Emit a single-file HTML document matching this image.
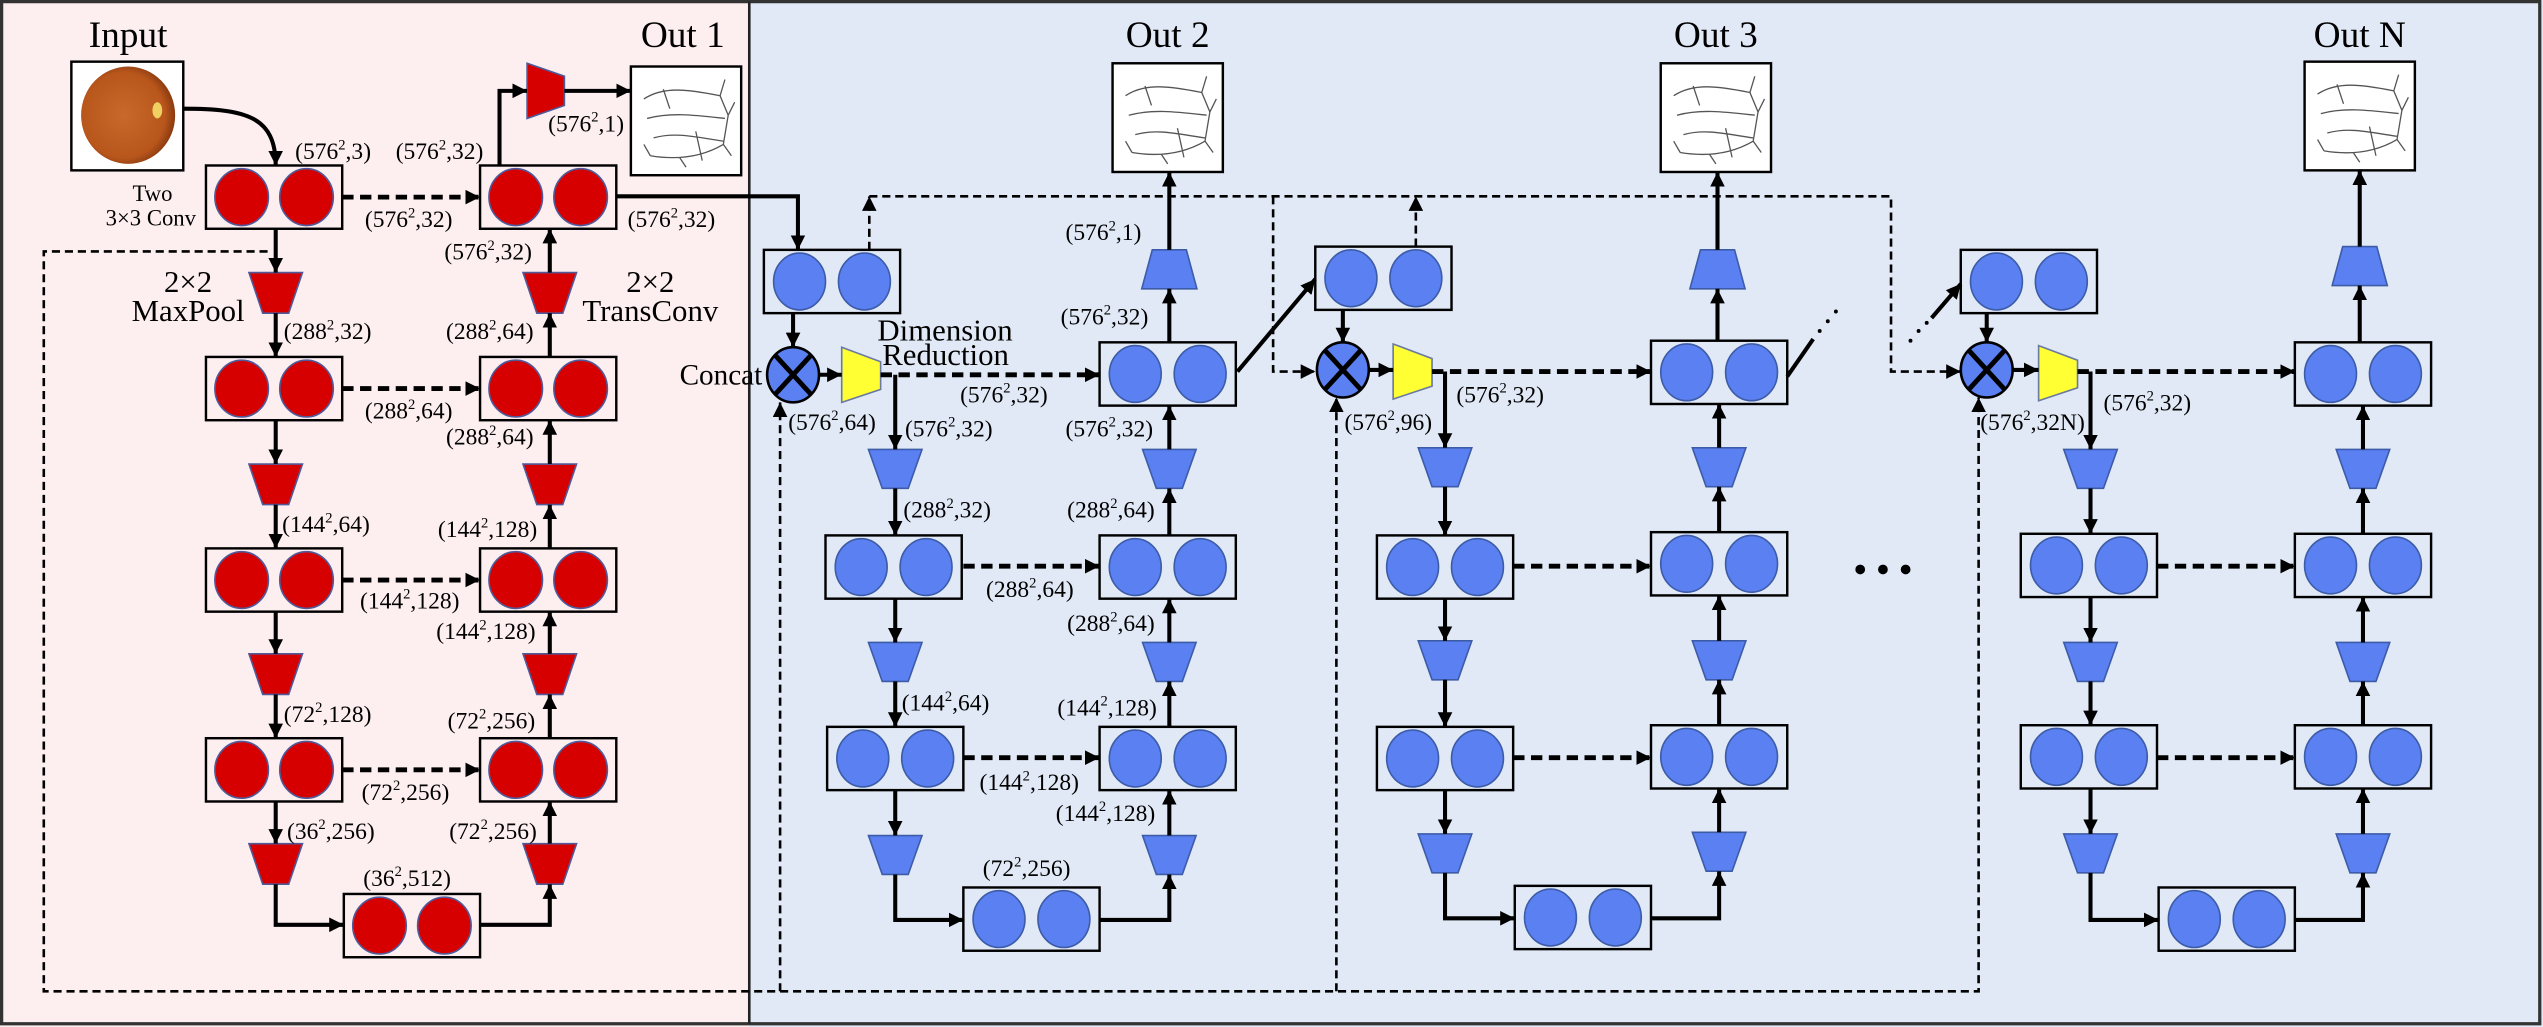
<!DOCTYPE html>
<html><head><meta charset="utf-8"><style>
html,body{margin:0;padding:0;background:#fff;}
svg{display:block;}
text{font-family:"Liberation Serif",serif;fill:#000;}
.s{stroke:#000;stroke-width:2.5;fill:none;}
.d{stroke:#000;stroke-width:3;fill:none;stroke-dasharray:7 4;}
.t{stroke:#000;stroke-width:1.6;fill:none;stroke-dasharray:5 3;}
.l{font-size:14.5px;}
</style></head><body>
<svg width="2543" height="1027" viewBox="0 0 1568 633" preserveAspectRatio="none" xmlns="http://www.w3.org/2000/svg">
<defs>
<marker id="a" viewBox="0 0 10 10" refX="10" refY="5" markerWidth="9" markerHeight="9" markerUnits="userSpaceOnUse" orient="auto"><path d="M0,0L10,5L0,10z" fill="#000"/></marker>
<g id="bR"><rect width="84" height="39" fill="none" stroke="#000" stroke-width="1.5"/><ellipse cx="22" cy="19.5" rx="16.5" ry="17.5" fill="#d70000" stroke="#4f5a9a"/><ellipse cx="62" cy="19.5" rx="16.5" ry="17.5" fill="#d70000" stroke="#4f5a9a"/></g>
<g id="bB"><rect width="84" height="39" fill="none" stroke="#000" stroke-width="1.5"/><ellipse cx="22" cy="19.5" rx="16" ry="17.5" fill="#5a80f2" stroke="#3d5ca8"/><ellipse cx="62" cy="19.5" rx="16" ry="17.5" fill="#5a80f2" stroke="#3d5ca8"/></g>
<polygon id="tR" points="-16.5,0 16.5,0 8,25 -8,25" fill="#d70000" stroke="#4f5a9a"/>
<polygon id="tB" points="-16.5,0 16.5,0 8,24 -8,24" fill="#5a80f2" stroke="#3d5ca8"/>
<polygon id="uB" points="-10.5,0 10.5,0 17,24 -17,24" fill="#5a80f2" stroke="#3d5ca8"/>
<polygon id="yY" points="0,0 24,9 24,26 0,34" fill="#ffff33" stroke="#6a7aa0"/>
<g id="cc"><ellipse cx="0" cy="0" rx="16" ry="17" fill="#5a80f2" stroke="#000" stroke-width="1.6"/><path d="M-11,-12L11,12M11,-12L-11,12" stroke="#000" stroke-width="3"/></g>
<radialGradient id="eye" cx="0.45" cy="0.5" r="0.55"><stop offset="0" stop-color="#c86a2a"/><stop offset="0.8" stop-color="#b8561c"/><stop offset="1" stop-color="#8a3a10"/></radialGradient>
<g id="ves"><rect width="68" height="67" fill="#fff" stroke="#000" stroke-width="1.5"/><g stroke="#555" stroke-width="0.8" fill="none"><path d="M8,20 C20,12 35,14 55,18 L60,30 L57,48 C45,55 30,58 12,55"/><path d="M10,32 C25,28 40,30 58,32"/><path d="M14,44 C28,40 42,44 57,46"/><path d="M55,18 L58,8 M60,30 L64,22 M57,48 L62,55 M20,14 L24,26 M30,56 L34,62 M40,40 L44,58 M12,55 L8,48"/></g></g>
</defs>
<!-- backgrounds -->
<rect x="0" y="0" width="462" height="633" fill="#fdeef0"/>
<rect x="462" y="0" width="1106" height="633" fill="#e1e9f6"/>
<rect x="1" y="1" width="1565" height="630" fill="none" stroke="#333" stroke-width="2"/>
<line x1="462" y1="1" x2="462" y2="631" stroke="#222" stroke-width="1.6"/>

<!-- titles -->
<text x="79" y="29" font-size="23" text-anchor="middle">Input</text>
<text x="421" y="29" font-size="23" text-anchor="middle">Out 1</text>
<text x="720" y="29" font-size="23" text-anchor="middle">Out 2</text>
<text x="1058" y="29" font-size="23" text-anchor="middle">Out 3</text>
<text x="1455" y="29" font-size="23" text-anchor="middle">Out N</text>

<!-- images -->
<rect x="44" y="38" width="69" height="67" fill="#fff" stroke="#000" stroke-width="1.5"/>
<ellipse cx="79" cy="71" rx="29" ry="30" fill="url(#eye)"/>
<ellipse cx="97" cy="68" rx="3" ry="5" fill="#f0d060"/>
<use href="#ves" x="389" y="41"/>
<use href="#ves" x="686" y="39"/>
<use href="#ves" x="1024" y="39"/>
<use href="#ves" x="1421" y="38"/>

<!-- stage 1 blocks -->
<use href="#bR" x="127" y="102"/><use href="#bR" x="296" y="102"/>
<use href="#bR" x="127" y="220"/><use href="#bR" x="296" y="220"/>
<use href="#bR" x="127" y="338"/><use href="#bR" x="296" y="338"/>
<use href="#bR" x="127" y="455"/><use href="#bR" x="296" y="455"/>
<use href="#bR" x="212" y="551"/>
<use href="#tR" x="170" y="168"/><use href="#tR" x="170" y="286"/><use href="#tR" x="170" y="403"/><use href="#tR" x="170" y="520"/>
<use href="#tR" x="339" y="168"/><use href="#tR" x="339" y="286"/><use href="#tR" x="339" y="403"/><use href="#tR" x="339" y="520"/>
<polygon points="325,39 348,47 348,65 325,73" fill="#d70000" stroke="#4f5a9a"/>

<!-- stage 1 arrows -->
<path class="s" d="M113,67 C152,67 170,72 170,102" marker-end="url(#a)"/>
<path class="s" d="M170,141V168" marker-end="url(#a)"/>
<path class="s" d="M170,193V220" marker-end="url(#a)"/>
<path class="s" d="M170,259V286" marker-end="url(#a)"/>
<path class="s" d="M170,311V338" marker-end="url(#a)"/>
<path class="s" d="M170,377V403" marker-end="url(#a)"/>
<path class="s" d="M170,428V455" marker-end="url(#a)"/>
<path class="s" d="M170,494V520" marker-end="url(#a)"/>
<path class="s" d="M170,545V570H212" marker-end="url(#a)"/>
<path class="s" d="M296,570H339V545" marker-end="url(#a)"/>
<path class="s" d="M339,520V494" marker-end="url(#a)"/>
<path class="s" d="M339,455V428" marker-end="url(#a)"/>
<path class="s" d="M339,403V377" marker-end="url(#a)"/>
<path class="s" d="M339,338V311" marker-end="url(#a)"/>
<path class="s" d="M339,286V259" marker-end="url(#a)"/>
<path class="s" d="M339,220V193" marker-end="url(#a)"/>
<path class="s" d="M339,168V141" marker-end="url(#a)"/>
<path class="s" d="M308,102V56H325" marker-end="url(#a)"/>
<path class="s" d="M348,56H389" marker-end="url(#a)"/>
<path class="d" d="M211,121.5H296" marker-end="url(#a)"/>
<path class="d" d="M211,239.5H296" marker-end="url(#a)"/>
<path class="d" d="M211,357.5H296" marker-end="url(#a)"/>
<path class="d" d="M211,474.5H296" marker-end="url(#a)"/>
<path class="s" stroke-width="3" d="M380,121H492V154" marker-end="url(#a)"/>

<!-- long dashed lines -->
<path class="t" d="M165,155H27V611H1220V245" marker-end="url(#a)"/>
<path class="t" d="M481,611V248" marker-end="url(#a)"/>
<path class="t" d="M824,611V245" marker-end="url(#a)"/>
<path class="t" d="M536,154V121" marker-end="url(#a)"/>
<path class="t" d="M873,152V121" marker-end="url(#a)"/>
<path class="t" d="M536,121H1166V229H1209" marker-end="url(#a)"/>
<path class="t" d="M785,121V229H811" marker-end="url(#a)"/>

<!-- stage 2 -->
<use href="#bB" x="471" y="154"/><use href="#bB" x="811" y="152"/>
<use href="#bB" x="678" y="211"/>
<use href="#bB" x="509" y="330"/><use href="#bB" x="678" y="330"/>
<use href="#bB" x="510" y="448"/><use href="#bB" x="678" y="448"/>
<use href="#bB" x="594" y="547"/>
<use href="#cc" x="489" y="231"/>
<use href="#yY" x="519" y="214"/>
<use href="#tB" x="552" y="277"/><use href="#tB" x="552" y="396"/><use href="#tB" x="552" y="515"/>
<use href="#tB" x="721" y="277"/><use href="#tB" x="721" y="396"/><use href="#tB" x="721" y="515"/>
<use href="#uB" x="721" y="154"/>
<path class="s" d="M489,193V214" marker-end="url(#a)"/>
<path class="s" d="M505,231H519" marker-end="url(#a)"/>
<path class="d" d="M543,231H678" marker-end="url(#a)"/>
<path class="s" d="M552,231V277" marker-end="url(#a)"/>
<path class="s" d="M552,301V330" marker-end="url(#a)"/>
<path class="s" d="M552,369V396" marker-end="url(#a)"/>
<path class="s" d="M552,420V448" marker-end="url(#a)"/>
<path class="s" d="M552,487V515" marker-end="url(#a)"/>
<path class="s" d="M552,539V567H594" marker-end="url(#a)"/>
<path class="s" d="M678,567H721V539" marker-end="url(#a)"/>
<path class="s" d="M721,515V487" marker-end="url(#a)"/>
<path class="s" d="M721,448V420" marker-end="url(#a)"/>
<path class="s" d="M721,396V369" marker-end="url(#a)"/>
<path class="s" d="M721,330V301" marker-end="url(#a)"/>
<path class="s" d="M721,277V250" marker-end="url(#a)"/>
<path class="s" d="M721,211V178" marker-end="url(#a)"/>
<path class="s" d="M721,154V106" marker-end="url(#a)"/>
<path class="d" d="M594,349H678" marker-end="url(#a)"/>
<path class="d" d="M594,467H678" marker-end="url(#a)"/>
<path class="s" d="M763,229L811,172" marker-end="url(#a)"/>

<!-- stage 3 -->
<use href="#bB" x="1018" y="210"/>
<use href="#bB" x="849" y="330"/><use href="#bB" x="1018" y="328"/>
<use href="#bB" x="849" y="448"/><use href="#bB" x="1018" y="447"/>
<use href="#bB" x="934" y="546"/>
<use href="#cc" x="828" y="228"/>
<use href="#yY" x="859" y="212"/>
<use href="#tB" x="891" y="276"/><use href="#tB" x="891" y="395"/><use href="#tB" x="891" y="514"/>
<use href="#tB" x="1060" y="276"/><use href="#tB" x="1060" y="395"/><use href="#tB" x="1060" y="513"/>
<use href="#uB" x="1059" y="154"/>
<path class="s" d="M828,191V211" marker-end="url(#a)"/>
<path class="s" d="M844,228H859" marker-end="url(#a)"/>
<path class="d" d="M883,229H1018" marker-end="url(#a)"/>
<path class="s" d="M891,229V276" marker-end="url(#a)"/>
<path class="s" d="M891,300V330" marker-end="url(#a)"/>
<path class="s" d="M891,369V395" marker-end="url(#a)"/>
<path class="s" d="M891,419V448" marker-end="url(#a)"/>
<path class="s" d="M891,487V514" marker-end="url(#a)"/>
<path class="s" d="M891,538V566H934" marker-end="url(#a)"/>
<path class="s" d="M1018,566H1060V537" marker-end="url(#a)"/>
<path class="s" d="M1060,513V486" marker-end="url(#a)"/>
<path class="s" d="M1060,447V419" marker-end="url(#a)"/>
<path class="s" d="M1060,395V367" marker-end="url(#a)"/>
<path class="s" d="M1060,328V300" marker-end="url(#a)"/>
<path class="s" d="M1060,276V249" marker-end="url(#a)"/>
<path class="s" d="M1059,210V178" marker-end="url(#a)"/>
<path class="s" d="M1059,154V106" marker-end="url(#a)"/>
<path class="d" d="M933,349H1018" marker-end="url(#a)"/>
<path class="d" d="M933,467H1018" marker-end="url(#a)"/>
<path class="s" d="M1102,232L1118,209"/>
<circle cx="1122" cy="204" r="1.2"/><circle cx="1127" cy="198" r="1.2"/><circle cx="1132" cy="192" r="1.2"/>
<circle cx="1147" cy="351" r="3"/><circle cx="1161" cy="351" r="3"/><circle cx="1175" cy="351" r="3"/>

<!-- stage N -->
<use href="#bB" x="1209" y="154"/>
<use href="#bB" x="1415" y="211"/>
<use href="#bB" x="1246" y="329"/><use href="#bB" x="1415" y="329"/>
<use href="#bB" x="1246" y="447"/><use href="#bB" x="1415" y="447"/>
<use href="#bB" x="1331" y="547"/>
<use href="#cc" x="1225" y="228"/>
<use href="#yY" x="1257" y="213"/>
<use href="#tB" x="1289" y="277"/><use href="#tB" x="1289" y="396"/><use href="#tB" x="1289" y="514"/>
<use href="#tB" x="1457" y="277"/><use href="#tB" x="1457" y="396"/><use href="#tB" x="1457" y="514"/>
<use href="#uB" x="1455" y="152"/>
<circle cx="1178" cy="210" r="1.2"/><circle cx="1183" cy="204" r="1.2"/><circle cx="1188" cy="199" r="1.2"/>
<path class="s" d="M1191,196L1209,175" marker-end="url(#a)"/>
<path class="s" d="M1225,193V211" marker-end="url(#a)"/>
<path class="s" d="M1241,228H1257" marker-end="url(#a)"/>
<path class="d" d="M1281,229H1415" marker-end="url(#a)"/>
<path class="s" d="M1289,229V277" marker-end="url(#a)"/>
<path class="s" d="M1289,301V329" marker-end="url(#a)"/>
<path class="s" d="M1289,368V396" marker-end="url(#a)"/>
<path class="s" d="M1289,420V447" marker-end="url(#a)"/>
<path class="s" d="M1289,486V514" marker-end="url(#a)"/>
<path class="s" d="M1289,538V567H1331" marker-end="url(#a)"/>
<path class="s" d="M1415,567H1457V538" marker-end="url(#a)"/>
<path class="s" d="M1457,514V486" marker-end="url(#a)"/>
<path class="s" d="M1457,447V420" marker-end="url(#a)"/>
<path class="s" d="M1457,396V368" marker-end="url(#a)"/>
<path class="s" d="M1457,329V301" marker-end="url(#a)"/>
<path class="s" d="M1457,277V250" marker-end="url(#a)"/>
<path class="s" d="M1455,211V176" marker-end="url(#a)"/>
<path class="s" d="M1455,152V105" marker-end="url(#a)"/>
<path class="d" d="M1330,349H1415" marker-end="url(#a)"/>
<path class="d" d="M1330,467H1415" marker-end="url(#a)"/>

<!-- text labels -->
<text x="94" y="124" font-size="14" text-anchor="middle">Two</text>
<text x="93" y="139" font-size="14" text-anchor="middle">3×3 Conv</text>
<text x="116" y="180" font-size="19" text-anchor="middle">2×2</text>
<text x="116" y="198" font-size="19" text-anchor="middle">MaxPool</text>
<text x="401" y="180" font-size="19" text-anchor="middle">2×2</text>
<text x="401" y="198" font-size="19" text-anchor="middle">TransConv</text>
<text x="470" y="237" font-size="18" text-anchor="end">Concat</text>
<text x="541" y="210" font-size="19">Dimension</text>
<text x="544" y="225" font-size="19">Reduction</text>

<g class="l">
<text x="182" y="98">(576<tspan font-size="9" dy="-6">2</tspan><tspan dy="6">,3)</tspan></text>
<text x="244" y="98">(576<tspan font-size="9" dy="-6">2</tspan><tspan dy="6">,32)</tspan></text>
<text x="338" y="81">(576<tspan font-size="9" dy="-6">2</tspan><tspan dy="6">,1)</tspan></text>
<text x="225" y="140">(576<tspan font-size="9" dy="-6">2</tspan><tspan dy="6">,32)</tspan></text>
<text x="387" y="140">(576<tspan font-size="9" dy="-6">2</tspan><tspan dy="6">,32)</tspan></text>
<text x="274" y="160">(576<tspan font-size="9" dy="-6">2</tspan><tspan dy="6">,32)</tspan></text>
<text x="175" y="209">(288<tspan font-size="9" dy="-6">2</tspan><tspan dy="6">,32)</tspan></text>
<text x="275" y="209">(288<tspan font-size="9" dy="-6">2</tspan><tspan dy="6">,64)</tspan></text>
<text x="225" y="258">(288<tspan font-size="9" dy="-6">2</tspan><tspan dy="6">,64)</tspan></text>
<text x="275" y="274">(288<tspan font-size="9" dy="-6">2</tspan><tspan dy="6">,64)</tspan></text>
<text x="174" y="328">(144<tspan font-size="9" dy="-6">2</tspan><tspan dy="6">,64)</tspan></text>
<text x="270" y="331">(144<tspan font-size="9" dy="-6">2</tspan><tspan dy="6">,128)</tspan></text>
<text x="222" y="375">(144<tspan font-size="9" dy="-6">2</tspan><tspan dy="6">,128)</tspan></text>
<text x="269" y="394">(144<tspan font-size="9" dy="-6">2</tspan><tspan dy="6">,128)</tspan></text>
<text x="175" y="445">(72<tspan font-size="9" dy="-6">2</tspan><tspan dy="6">,128)</tspan></text>
<text x="276" y="449">(72<tspan font-size="9" dy="-6">2</tspan><tspan dy="6">,256)</tspan></text>
<text x="223" y="493">(72<tspan font-size="9" dy="-6">2</tspan><tspan dy="6">,256)</tspan></text>
<text x="177" y="517">(36<tspan font-size="9" dy="-6">2</tspan><tspan dy="6">,256)</tspan></text>
<text x="277" y="517">(72<tspan font-size="9" dy="-6">2</tspan><tspan dy="6">,256)</tspan></text>
<text x="224" y="546">(36<tspan font-size="9" dy="-6">2</tspan><tspan dy="6">,512)</tspan></text>

<text x="657" y="148">(576<tspan font-size="9" dy="-6">2</tspan><tspan dy="6">,1)</tspan></text>
<text x="654" y="200">(576<tspan font-size="9" dy="-6">2</tspan><tspan dy="6">,32)</tspan></text>
<text x="592" y="248">(576<tspan font-size="9" dy="-6">2</tspan><tspan dy="6">,32)</tspan></text>
<text x="486" y="265">(576<tspan font-size="9" dy="-6">2</tspan><tspan dy="6">,64)</tspan></text>
<text x="558" y="269">(576<tspan font-size="9" dy="-6">2</tspan><tspan dy="6">,32)</tspan></text>
<text x="657" y="269">(576<tspan font-size="9" dy="-6">2</tspan><tspan dy="6">,32)</tspan></text>
<text x="557" y="319">(288<tspan font-size="9" dy="-6">2</tspan><tspan dy="6">,32)</tspan></text>
<text x="658" y="319">(288<tspan font-size="9" dy="-6">2</tspan><tspan dy="6">,64)</tspan></text>
<text x="608" y="368">(288<tspan font-size="9" dy="-6">2</tspan><tspan dy="6">,64)</tspan></text>
<text x="658" y="389">(288<tspan font-size="9" dy="-6">2</tspan><tspan dy="6">,64)</tspan></text>
<text x="556" y="438">(144<tspan font-size="9" dy="-6">2</tspan><tspan dy="6">,64)</tspan></text>
<text x="652" y="441">(144<tspan font-size="9" dy="-6">2</tspan><tspan dy="6">,128)</tspan></text>
<text x="604" y="487">(144<tspan font-size="9" dy="-6">2</tspan><tspan dy="6">,128)</tspan></text>
<text x="651" y="506">(144<tspan font-size="9" dy="-6">2</tspan><tspan dy="6">,128)</tspan></text>
<text x="606" y="540">(72<tspan font-size="9" dy="-6">2</tspan><tspan dy="6">,256)</tspan></text>
<text x="829" y="265">(576<tspan font-size="9" dy="-6">2</tspan><tspan dy="6">,96)</tspan></text>
<text x="898" y="248">(576<tspan font-size="9" dy="-6">2</tspan><tspan dy="6">,32)</tspan></text>
<text x="1221" y="265">(576<tspan font-size="9" dy="-6">2</tspan><tspan dy="6">,32N)</tspan></text>
<text x="1297" y="253">(576<tspan font-size="9" dy="-6">2</tspan><tspan dy="6">,32)</tspan></text>
</g>
</svg>
</body></html>
